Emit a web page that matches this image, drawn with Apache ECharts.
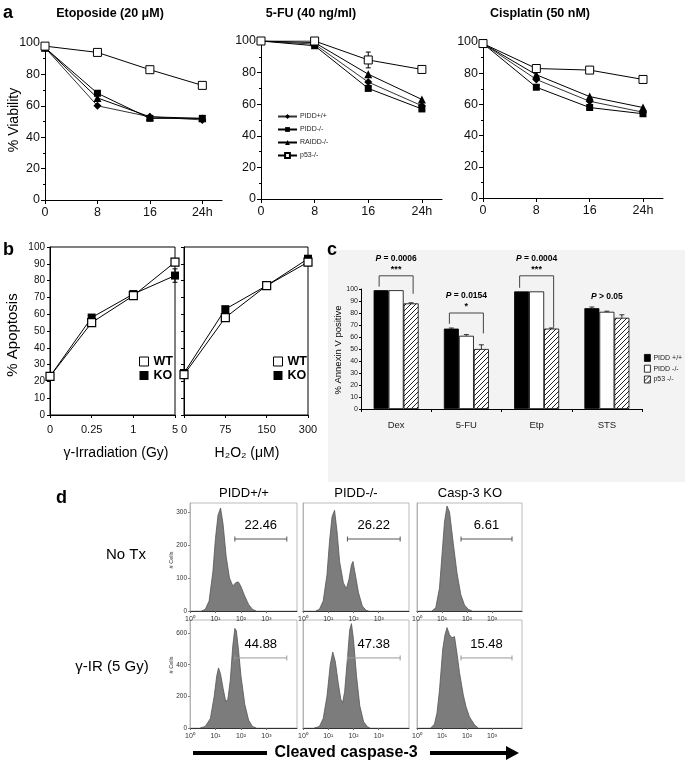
<!DOCTYPE html>
<html><head><meta charset="utf-8">
<script src="https://cdn.jsdelivr.net/npm/echarts@6/dist/echarts.min.js"></script>
<style>html,body{margin:0;padding:0;background:#fff}#c{width:685px;height:768px}</style>
</head><body><div id="c"></div>
<script>
// ---------- DATA ----------
const hours = [0, 8, 16, 24];
const viaNames = ['PIDD+/+', 'PIDD-/-', 'RAIDD-/-', 'p53-/-'];
const etoPIDDwt = [97, 60, 53, 51];
const etoPIDDko = [97, 68, 52, 52];
const etoRAIDD  = [97, 65, 53, 52];
const etoP53    = [98, 94, 83, 73];
const etoP53Err = [1, 1, 1, 1];
const fuPIDDwt = [100, 98, 74, 59];
const fuPIDDko = [100, 97, 70, 57];
const fuRAIDD  = [100, 99, 79, 63];
const fuP53    = [100, 100, 88, 82];
const fuP53Err = [1, 1, 5, 2];
const cisPIDDwt = [99, 76, 62, 55];
const cisPIDDko = [99, 71, 58, 54];
const cisRAIDD  = [99, 79, 65, 58];
const cisP53    = [99, 83, 82, 76];
const cisP53Err = [1, 2, 1.5, 1.5];

const irDoses = ['0', '0.25', '1', '5'];
const irWT = [23, 55, 71, 91];
const irKO = [23, 58, 72, 83];
const irKOErr = [1, 1, 1, 4];
const h2o2Doses = ['0', '75', '150', '300'];
const h2o2WT = [24, 58, 77, 91];
const h2o2KO = [25, 63, 77, 93];
const h2o2KOErr = [1, 1, 1, 2];

const drugs = ['Dex', '5-FU', 'Etp', 'STS'];
const annexNames = ['PIDD +/+', 'PIDD -/-', 'p53 -/-'];
const annexPIDDwt = [99, 67, 98, 84];
const annexPIDDko = [99, 61, 98, 81];
const annexP53    = [88, 50, 67, 76];
const annexErrWT  = [0, 0.5, 0, 1];
const annexErrKO  = [0, 1, 0, 0.5];
const annexErrP53 = [0.5, 3.5, 0.5, 2.5];
const pLabels = ['= 0.0006', '= 0.0154', '= 0.0004', '> 0.05'];
const pStars  = ['***', '*', '***', ''];
const bracketTop      = [111, 80, 111, null];
const bracketLeftEnd  = [102, 71, 101, null];
const bracketRightEnd = [96, 63, 68, null];

const histNoTxPIDDwt = [[0.45,0],[0.6,5],[0.75,30],[0.9,120],[1.0,220],[1.1,290],[1.2,312],[1.3,262],[1.42,165],[1.55,100],[1.68,76],[1.8,86],[1.9,88],[2.0,74],[2.15,45],[2.3,20],[2.45,5],[2.6,0]];
const histNoTxPIDDko = [[0.5,0],[0.65,5],[0.8,30],[0.95,110],[1.05,210],[1.15,285],[1.25,305],[1.35,240],[1.45,150],[1.6,85],[1.72,68],[1.82,95],[1.92,140],[1.98,150],[2.05,120],[2.2,55],[2.35,15],[2.5,2],[2.6,0]];
const histNoTxCasp3  = [[0.6,0],[0.75,10],[0.9,70],[1.0,170],[1.1,270],[1.2,318],[1.3,300],[1.45,205],[1.6,115],[1.75,50],[1.9,18],[2.05,5],[2.2,0]];
const histIRPIDDwt = [[0.4,0],[0.6,10],[0.8,60],[0.95,200],[1.05,330],[1.12,380],[1.2,340],[1.3,250],[1.4,170],[1.48,175],[1.58,300],[1.68,520],[1.76,630],[1.82,615],[1.9,500],[2.0,330],[2.15,150],[2.3,50],[2.45,10],[2.6,0]];
const histIRPIDDko = [[0.45,0],[0.65,10],[0.8,60],[0.95,200],[1.08,400],[1.18,480],[1.28,420],[1.4,280],[1.5,180],[1.57,160],[1.65,230],[1.75,420],[1.85,620],[1.92,660],[2.0,560],[2.12,330],[2.25,140],[2.4,40],[2.55,8],[2.65,0]];
const histIRCasp3  = [[0.55,0],[0.7,25],[0.8,95],[0.9,240],[1.03,500],[1.12,590],[1.2,635],[1.3,590],[1.4,570],[1.5,578],[1.6,470],[1.7,350],[1.85,210],[1.96,135],[2.1,70],[2.3,20],[2.45,0]];
const gateStart = [1.76, 1.76, 1.76, 1.76, 1.76, 1.76];
const gateEnd   = [3.8, 3.85, 3.8, 3.8, 3.85, 3.8];
const gateLevel = [218, 218, 218, 443, 443, 443];
const gatePct   = ['22.46', '26.22', '6.61', '44.88', '47.38', '15.48'];
const decadeTicks = [0, 1, 2, 3];
const colHeads = ['PIDD+/+', 'PIDD-/-', 'Casp-3 KO'];
const rowHeads = ['No Tx', 'γ-IR (5 Gy)'];

// ---------- CHART ----------
const F = "'Liberation Sans', Arial, Helvetica, sans-serif";
const FN = "'Liberation Sans Narrow', 'Arial Narrow', 'Liberation Sans', Arial, sans-serif";
const chart = echarts.init(document.getElementById('c'), null, {renderer: 'canvas', width: 685, height: 768});

const pc = document.createElement('canvas'); pc.width = 5; pc.height = 5;
const g2 = pc.getContext('2d');
g2.fillStyle = '#fff'; g2.fillRect(0, 0, 5, 5);
g2.strokeStyle = '#222'; g2.lineWidth = 1;
g2.beginPath(); g2.moveTo(-1, 6); g2.lineTo(6, -1); g2.stroke();
const hatch = {image: pc, repeat: 'repeat'};

const OB = {outerBoundsMode: 'none'};
const frameB = {show: true, borderColor: '#000', borderWidth: 1, backgroundColor: 'transparent'};
const frameD = {show: true, borderColor: '#aaa', borderWidth: 0.8, backgroundColor: 'transparent'};
const grid = [
  Object.assign({left: 45, top: 43, width: 177, height: 157}, OB),
  Object.assign({left: 261, top: 41, width: 181, height: 158}, OB),
  Object.assign({left: 483, top: 42, width: 180, height: 156}, OB),
  Object.assign({left: 50, top: 247, width: 125, height: 168}, OB, frameB),
  Object.assign({left: 184, top: 247, width: 124, height: 168}, OB, frameB),
  Object.assign({left: 361, top: 289, width: 281, height: 120}, OB),
  Object.assign({left: 190, top: 503, width: 107, height: 108}, OB, frameD),
  Object.assign({left: 303, top: 503, width: 106, height: 108}, OB, frameD),
  Object.assign({left: 417, top: 503, width: 105, height: 108}, OB, frameD),
  Object.assign({left: 190, top: 620, width: 107, height: 108}, OB, frameD),
  Object.assign({left: 303, top: 620, width: 106, height: 108}, OB, frameD),
  Object.assign({left: 417, top: 620, width: 105, height: 108}, OB, frameD)
];

const blk = {color: '#000', width: 1};
function aX(i) {
  return {gridIndex: i, type: 'value', min: 0, max: 27,
    axisLine: {show: true, onZero: false, lineStyle: blk},
    axisTick: {show: true, length: 4, customValues: hours, lineStyle: blk},
    axisLabel: {customValues: hours, formatter: v => v === 24 ? '24h' : String(v), color: '#111', fontSize: 12.5, fontFamily: F, margin: 6},
    splitLine: {show: false}};
}
function aY(i) {
  return {gridIndex: i, type: 'value', min: 0, max: 100, interval: 20,
    axisLine: {show: true, lineStyle: blk},
    axisTick: {show: true, length: 4, lineStyle: blk},
    minorTick: {show: true, splitNumber: 2, length: 2, lineStyle: blk},
    axisLabel: {color: '#111', fontSize: 12.5, fontFamily: F, margin: 5},
    splitLine: {show: false}};
}
function bX(i, data) {
  return {gridIndex: i, type: 'category', data, boundaryGap: false,
    axisLine: {show: true, lineStyle: blk},
    axisTick: {show: true, length: 3, interval: 0, lineStyle: blk},
    axisLabel: {color: '#111', fontSize: 11, fontFamily: F, margin: 9, interval: 0},
    splitLine: {show: false}};
}
function bY(i, showLabel) {
  return {gridIndex: i, type: 'value', min: 0, max: 100, interval: 10,
    axisLine: {show: true, lineStyle: blk},
    axisTick: {show: true, length: 3, lineStyle: blk},
    axisLabel: {show: showLabel, color: '#111', fontSize: 10, fontFamily: F, margin: 5},
    splitLine: {show: false}};
}
const sup = ['⁰', '¹', '²', '³'];
function dX(i) {
  return {gridIndex: i, type: 'value', min: 0, max: 4.2,
    axisLine: {show: true, onZero: false, lineStyle: {color: '#333', width: 1}},
    axisTick: {show: true, length: 2, customValues: decadeTicks, lineStyle: {color: '#666'}},
    axisLabel: {customValues: decadeTicks, formatter: v => '10' + sup[v], color: '#333', fontSize: 7, fontFamily: F, margin: 5},
    splitLine: {show: false}};
}
function dY(i, max, labels) {
  const o = {gridIndex: i, type: 'value', min: 0, max,
    axisLine: {show: true, lineStyle: {color: '#aaa', width: 0.8}},
    splitLine: {show: false}};
  if (labels) {
    o.axisTick = {show: true, length: 2, customValues: labels, lineStyle: {color: '#888'}};
    o.axisLabel = {show: true, customValues: labels, color: '#333', fontSize: 6.5, fontFamily: F, margin: 3};
  } else {
    o.axisTick = {show: false};
    o.axisLabel = {show: false};
  }
  return o;
}

const xAxis = [aX(0), aX(1), aX(2), bX(3, irDoses), bX(4, h2o2Doses),
  {gridIndex: 5, type: 'category', data: drugs,
    axisLine: {show: true, lineStyle: blk},
    axisTick: {show: true, length: 3, interval: 0, lineStyle: blk},
    axisLabel: {color: '#222', fontSize: 9.5, fontFamily: FN, margin: 11},
    splitLine: {show: false}},
  dX(6), dX(7), dX(8), dX(9), dX(10), dX(11)];
const yAxis = [aY(0), aY(1), aY(2), bY(3, true), bY(4, false),
  {gridIndex: 5, type: 'value', min: 0, max: 100, interval: 10,
    axisLine: {show: true, lineStyle: blk},
    axisTick: {show: true, length: 2, lineStyle: blk},
    axisLabel: {color: '#222', fontSize: 7, fontFamily: FN, margin: 3},
    splitLine: {show: false}},
  dY(6, 327, [0, 100, 200, 300]), dY(7, 327), dY(8, 327),
  dY(9, 683, [0, 200, 400, 600]), dY(10, 683), dY(11, 683)];

const series = [];
function errRender(params, api) {
  const x = api.value(0);
  const p1 = api.coord([x, api.value(1)]), p2 = api.coord([x, api.value(2)]);
  const w = 2.5;
  const st = {stroke: '#000', lineWidth: 1};
  return {type: 'group', children: [
    {type: 'line', shape: {x1: p1[0], y1: p1[1], x2: p2[0], y2: p2[1]}, style: st},
    {type: 'line', shape: {x1: p1[0] - w, y1: p1[1], x2: p1[0] + w, y2: p1[1]}, style: st},
    {type: 'line', shape: {x1: p2[0] - w, y1: p2[1], x2: p2[0] + w, y2: p2[1]}, style: st}
  ]};
}
// panel a
const viaSets = [
  [etoPIDDwt, etoPIDDko, etoRAIDD, etoP53, etoP53Err],
  [fuPIDDwt, fuPIDDko, fuRAIDD, fuP53, fuP53Err],
  [cisPIDDwt, cisPIDDko, cisRAIDD, cisP53, cisP53Err]];
const viaSym = ['diamond', 'rect', 'triangle', 'rect'];
const viaSize = [8, 7, 8, 8];
viaSets.forEach((set, gi) => {
  series.push({type: 'custom', xAxisIndex: gi, yAxisIndex: gi, renderItem: errRender, z: 1, silent: true,
    data: hours.map((h, k) => [h, set[3][k] - set[4][k], set[3][k] + set[4][k]])});
  for (let s = 0; s < 4; s++) {
    const open = s === 3;
    series.push({name: viaNames[s], type: 'line', xAxisIndex: gi, yAxisIndex: gi,
      data: hours.map((h, k) => [h, set[s][k]]),
      symbol: viaSym[s], symbolSize: viaSize[s], z: open ? 4 : 3,
      itemStyle: open ? {color: '#fff', borderColor: '#000', borderWidth: 1} : {color: '#000'},
      lineStyle: {color: s === 0 ? '#333' : '#000', width: 1}, silent: true});
  }
});
// panel b
[[3, irWT, irKO, irKOErr], [4, h2o2WT, h2o2KO, h2o2KOErr]].forEach(([gi, wt, ko, err]) => {
  series.push({type: 'custom', xAxisIndex: gi, yAxisIndex: gi, renderItem: errRender, z: 1, silent: true,
    data: ko.map((v, k) => [k, v - err[k], v + err[k]])});
  series.push({name: 'KO', type: 'line', xAxisIndex: gi, yAxisIndex: gi, data: ko, symbol: 'rect', symbolSize: 8,
    itemStyle: {color: '#000'}, lineStyle: {color: '#000', width: 1}, z: 3, silent: true});
  series.push({name: 'WT', type: 'line', xAxisIndex: gi, yAxisIndex: gi, data: wt, symbol: 'rect', symbolSize: 8,
    itemStyle: {color: '#fff', borderColor: '#000', borderWidth: 1.2}, lineStyle: {color: '#000', width: 1}, z: 4, silent: true});
});
// panel c
const annexSets = [annexPIDDwt, annexPIDDko, annexP53];
const annexErrs = [annexErrWT, annexErrKO, annexErrP53];
const annexStyles = [{color: '#000'}, {color: '#fff'}, {color: hatch}];
annexSets.forEach((vals, s) => {
  series.push({name: annexNames[s], type: 'bar', xAxisIndex: 5, yAxisIndex: 5, data: vals,
    barWidth: 15, barGap: '0%', silent: true,
    itemStyle: Object.assign({borderColor: '#000', borderWidth: 0.8}, annexStyles[s])});
});
series.push({type: 'custom', xAxisIndex: 5, yAxisIndex: 5, z: 5, silent: true,
  data: [].concat(...annexSets.map((vals, s) => vals.map((v, i) => [i, v, v + annexErrs[s][i], s]))),
  renderItem: (params, api) => {
    const i = api.value(0), s = api.value(3);
    const off = (s - 1) * 15;
    const p1 = api.coord([i, api.value(1)]), p2 = api.coord([i, api.value(2)]);
    const x = p1[0] + off;
    if (api.value(2) - api.value(1) <= 0) return null;
    const st = {stroke: '#000', lineWidth: 0.8};
    return {type: 'group', children: [
      {type: 'line', shape: {x1: x, y1: p1[1], x2: x, y2: p2[1]}, style: st},
      {type: 'line', shape: {x1: x - 2.5, y1: p2[1], x2: x + 2.5, y2: p2[1]}, style: st}]};
  }});
series.push({type: 'custom', xAxisIndex: 5, yAxisIndex: 5, z: 6, silent: true,
  data: drugs.map((d, i) => [i, 0]),
  renderItem: (params, api) => {
    const i = params.dataIndex;
    const c = api.coord([i, 0])[0];
    const children = [];
    let labelY;
    if (bracketTop[i] != null) {
      const yt = api.coord([i, bracketTop[i]])[1];
      const yl = api.coord([i, bracketLeftEnd[i]])[1];
      const yr = api.coord([i, bracketRightEnd[i]])[1];
      children.push({type: 'polyline', shape: {points: [[c - 17, yl], [c - 17, yt], [c + 17, yt], [c + 17, yr]]},
        style: {stroke: '#444', fill: null, lineWidth: 1}});
      children.push({type: 'text', x: c, y: yt - 6, style: {text: pStars[i], fill: '#000', fontSize: 9, fontWeight: 'bold', fontFamily: F, align: 'center', verticalAlign: 'middle'}});
      labelY = yt - 17;
    } else {
      const mx = Math.max(annexPIDDwt[i], annexPIDDko[i], annexP53[i]);
      labelY = api.coord([i, mx])[1] - 12;
    }
    children.push({type: 'text', x: c, y: labelY, style: {
      text: '{p|P}{t| ' + pLabels[i] + '}', align: 'center', verticalAlign: 'middle',
      rich: {p: {fontSize: 8.5, fontWeight: 'bold', fontStyle: 'italic', fontFamily: FN, fill: '#000'},
             t: {fontSize: 8.5, fontWeight: 'bold', fontFamily: FN, fill: '#000'}}}});
    return {type: 'group', children};
  }});
// panel d
const hists = [histNoTxPIDDwt, histNoTxPIDDko, histNoTxCasp3, histIRPIDDwt, histIRPIDDko, histIRCasp3];
hists.forEach((pts, k) => {
  series.push({type: 'line', xAxisIndex: 6 + k, yAxisIndex: 6 + k, data: pts, symbol: 'none', silent: true,
    lineStyle: {color: '#555', width: 0.8}, areaStyle: {color: '#7c7c7c', opacity: 1}});
  series.push({type: 'custom', xAxisIndex: 6 + k, yAxisIndex: 6 + k, silent: true, z: 5,
    data: [[gateStart[k], gateLevel[k], gateEnd[k]]],
    renderItem: (params, api) => {
      const y = api.value(1);
      const p1 = api.coord([api.value(0), y]), p2 = api.coord([api.value(2), y]);
      const col = k < 3 ? '#555' : '#999';
      const st = {stroke: col, lineWidth: 1};
      return {type: 'group', children: [
        {type: 'line', shape: {x1: p1[0], y1: p1[1], x2: p2[0], y2: p2[1]}, style: st},
        {type: 'line', shape: {x1: p1[0], y1: p1[1] - 2.5, x2: p1[0], y2: p1[1] + 2.5}, style: st},
        {type: 'line', shape: {x1: p2[0], y1: p2[1] - 2.5, x2: p2[0], y2: p2[1] + 2.5}, style: st},
        {type: 'text', x: (p1[0] + p2[0]) / 2, y: p1[1] - 14, style: {text: gatePct[k], fill: '#000', fontSize: 13, fontFamily: F, align: 'center', verticalAlign: 'middle'}}
      ]};
    }});
});

const legend = [
  {left: 272, top: 108, orient: 'vertical', itemWidth: 19, itemHeight: 6, itemGap: 6, data: viaNames, selectedMode: false,
    textStyle: {fontSize: 7, fontFamily: F, color: '#222', padding: [0, 0, 0, -2]}},
  {left: 134, top: 350, orient: 'vertical', icon: 'rect', itemWidth: 9, itemHeight: 9, itemGap: 1, data: ['WT', 'KO'], selectedMode: false,
    itemStyle: {borderWidth: 1}, textStyle: {fontSize: 12.5, fontWeight: 'bold', fontFamily: F, color: '#000', lineHeight: 13}},
  {left: 268, top: 350, orient: 'vertical', icon: 'rect', itemWidth: 9, itemHeight: 9, itemGap: 1, data: ['WT', 'KO'], selectedMode: false,
    itemStyle: {borderWidth: 1}, textStyle: {fontSize: 12.5, fontWeight: 'bold', fontFamily: F, color: '#000', lineHeight: 13}},
  {left: 639, top: 349, orient: 'vertical', icon: 'rect', itemWidth: 6, itemHeight: 7, itemGap: 3, data: annexNames, selectedMode: false,
    itemStyle: {borderWidth: 0.8, borderColor: '#000'}, textStyle: {fontSize: 7, fontFamily: FN, color: '#222', padding: [0, 0, 0, -2]}}
];

function T(x, y, text, o) {
  return Object.assign({type: 'text', x, y, style: Object.assign({text, fill: '#000', fontSize: 13, fontFamily: F, align: 'center', verticalAlign: 'middle'}, (o && o.style) || {})},
    o && o.rotation ? {rotation: o.rotation} : {});
}
const R = Math.PI / 2;
const graphic = [
  {type: 'rect', z: -10, shape: {x: 328, y: 250, width: 357, height: 232}, style: {fill: '#f3f3f3'}},
  T(3, 13, 'a', {style: {fontSize: 18, fontWeight: 'bold', align: 'left'}}),
  T(110, 14, 'Etoposide (20 μM)', {style: {fontSize: 12.5, fontWeight: 'bold'}}),
  T(311, 14, '5-FU (40 ng/ml)', {style: {fontSize: 12.5, fontWeight: 'bold'}}),
  T(540, 14, 'Cisplatin (50 nM)', {style: {fontSize: 12.5, fontWeight: 'bold'}}),
  T(14, 120, '% Viability', {rotation: R, style: {fontSize: 14}}),
  T(3, 250, 'b', {style: {fontSize: 18, fontWeight: 'bold', align: 'left'}}),
  T(13, 335, '% Apoptosis', {rotation: R, style: {fontSize: 15}}),
  T(116, 453, 'γ-Irradiation (Gy)', {style: {fontSize: 14}}),
  T(247, 453, 'H₂O₂ (μM)', {style: {fontSize: 14}}),
  T(327, 250, 'c', {style: {fontSize: 18, fontWeight: 'bold', align: 'left'}}),
  T(338, 350, '% Annexin V positive', {rotation: R, style: {fontSize: 9.5, fontFamily: FN}}),
  T(56, 498, 'd', {style: {fontSize: 18, fontWeight: 'bold', align: 'left'}}),
  T(244, 493, colHeads[0], {style: {fontSize: 13}}),
  T(356, 493, colHeads[1], {style: {fontSize: 13}}),
  T(470, 493, colHeads[2], {style: {fontSize: 13}}),
  T(126, 555, rowHeads[0], {style: {fontSize: 15}}),
  T(112, 667, rowHeads[1], {style: {fontSize: 15}}),
  T(171, 560, '# Cells', {rotation: R, style: {fontSize: 5.5, fill: '#333'}}),
  T(171, 665, '# Cells', {rotation: R, style: {fontSize: 5.5, fill: '#333'}}),
  {type: 'rect', shape: {x: 193, y: 751, width: 74, height: 4}, style: {fill: '#000'}},
  T(346, 753, 'Cleaved caspase-3', {style: {fontSize: 16, fontWeight: 'bold'}}),
  {type: 'rect', shape: {x: 430, y: 751, width: 78, height: 4}, style: {fill: '#000'}},
  {type: 'polygon', shape: {points: [[506, 746], [519, 753], [506, 760]]}, style: {fill: '#000'}}
];

chart.setOption({animation: false, backgroundColor: '#fff', grid, xAxis, yAxis, series, legend, graphic});
</script></body></html>
